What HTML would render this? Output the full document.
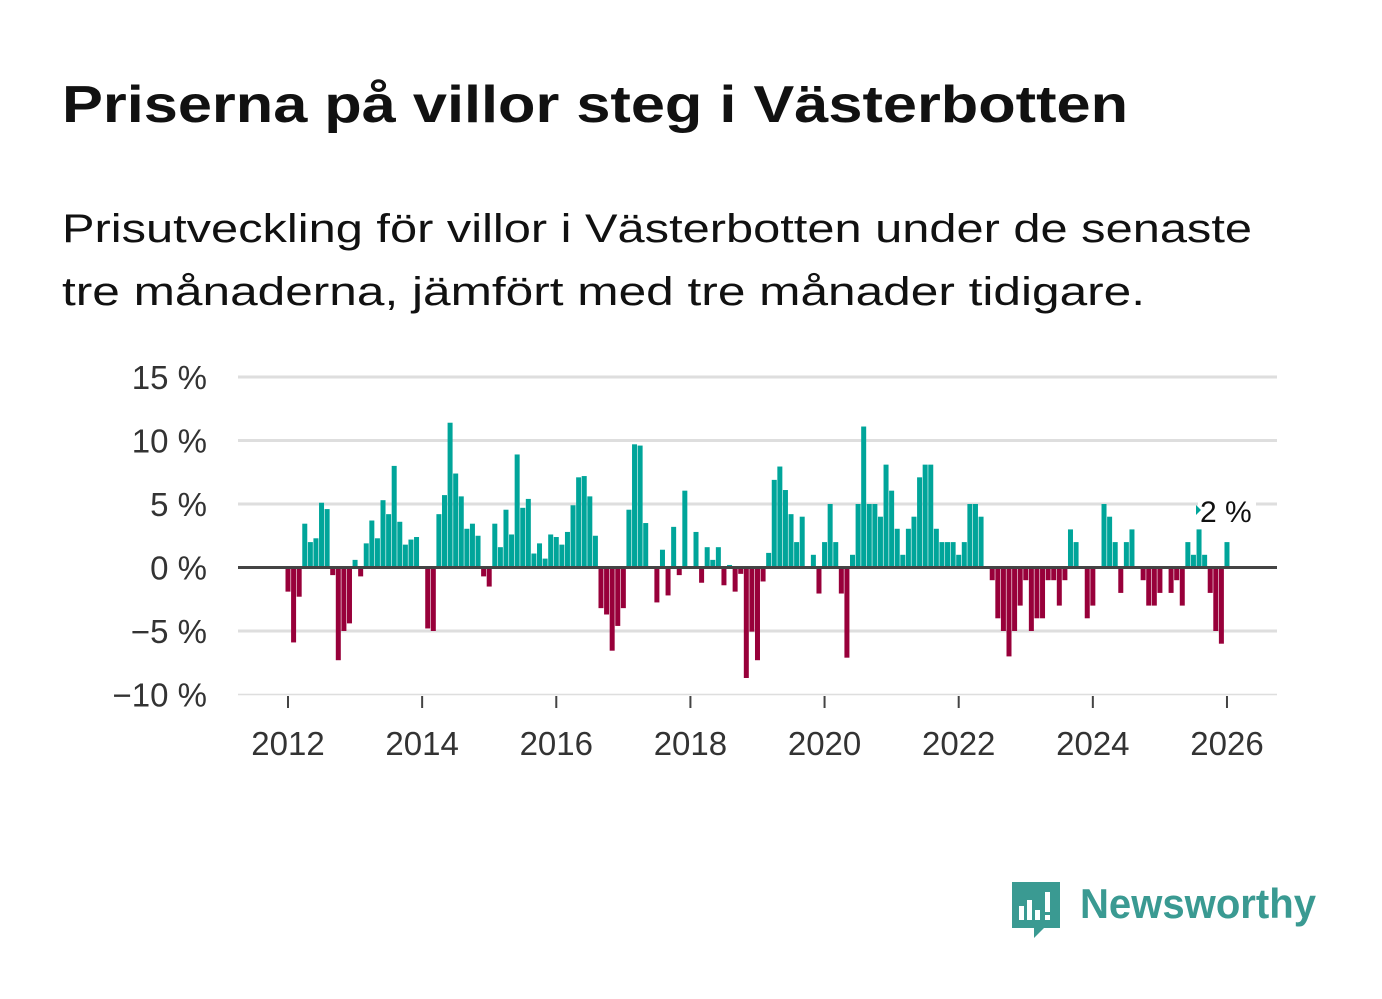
<!DOCTYPE html>
<html><head><meta charset="utf-8"><style>
body{margin:0;background:#fff;}
svg{display:block;font-family:"Liberation Sans",sans-serif;}
</style></head><body>
<svg id="chart" width="1382" height="999" viewBox="0 0 1382 999" xmlns="http://www.w3.org/2000/svg">
<rect width="1382" height="999" fill="#fff"/>
<text x="62" y="122" font-size="52" font-weight="bold" fill="#111" textLength="1066" lengthAdjust="spacingAndGlyphs">Priserna på villor steg i Västerbotten</text>
<text x="62" y="242" font-size="40" fill="#111" textLength="1190" lengthAdjust="spacingAndGlyphs">Prisutveckling för villor i Västerbotten under de senaste</text>
<text x="62" y="305" font-size="40" fill="#111" textLength="1083" lengthAdjust="spacingAndGlyphs">tre månaderna, jämfört med tre månader tidigare.</text>
<g id="grid"></g>
<g id="bars"></g>
<g id="axes"></g>
<g>
<rect x="1198" y="492" width="58" height="36" fill="#fff"/>
<path d="M1196 505 L1201 510 L1196 515 Z" fill="#00a59a"/>
<text x="1200" y="522" font-size="30" fill="#111">2 %</text>
</g>
<g>
<path d="M1012 882 H1060 V928 H1044 L1034 938 V928 H1012 Z" fill="#3a9a92"/>
<rect x="1019" y="906" width="5" height="14" fill="#fff"/>
<rect x="1027" y="900" width="5" height="20" fill="#fff"/>
<rect x="1035" y="910" width="5" height="10" fill="#fff"/>
<rect x="1045" y="892" width="5" height="20" fill="#fff"/>
<rect x="1045" y="915" width="5" height="5" fill="#fff"/>
<text x="1080" y="918" font-size="42" font-weight="bold" fill="#3a9a92" textLength="236" lengthAdjust="spacingAndGlyphs">Newsworthy</text>
</g>
</svg>
<script>
const values = [-1.9,-5.9,-2.3,3.45,2.0,2.3,5.1,4.6,-0.6,-7.3,-5.0,-4.4,
0.6,-0.7,1.9,3.7,2.3,5.3,4.2,8.0,3.6,1.8,2.2,2.4,
0,-4.8,-5.0,4.2,5.7,11.4,7.4,5.6,3.05,3.45,2.5,-0.7,
-1.5,3.45,1.6,4.55,2.6,8.9,4.7,5.4,1.1,1.9,0.7,2.6,
2.4,1.8,2.8,4.9,7.1,7.2,5.6,2.5,-3.2,-3.7,-6.55,-4.6,
-3.2,4.55,9.7,9.6,3.5,0,-2.75,1.4,-2.2,3.2,-0.6,6.05,
0,2.8,-1.2,1.6,0.6,1.6,-1.4,0.2,-1.9,-0.5,-8.7,-5.05,
-7.3,-1.1,1.15,6.9,7.95,6.1,4.2,2.0,4.0,0,1.0,-2.05,
2.0,5.0,2.0,-2.05,-7.1,1.0,5.0,11.1,5.0,5.0,4.0,8.1,
6.05,3.05,1.0,3.05,4.0,7.1,8.1,8.1,3.05,2.0,2.0,2.0,
1.0,2.0,5.0,5.0,4.0,0,-1.0,-4.0,-5.0,-7.0,-5.0,-3.0,
-1.0,-5.0,-4.0,-4.0,-1.0,-1.0,-3.0,-1.0,3.0,2.0,0,-4.0,
-3.0,0,5.0,4.0,2.0,-2.0,2.0,3.0,0,-1.0,-3.0,-3.0,
-2.0,0,-2.0,-1.0,-3.0,2.0,1.0,3.0,1.0,-2.0,-5.0,-6.0,
2.0];
const startYear = 2012;
const yTicks = [-10,-5,0,5,10,15];
const yTickLabels = ["\u221210 %","\u22125 %","0 %","5 %","10 %","15 %"];
const xTicks = [2012,2014,2016,2018,2020,2022,2024,2026];

const NS="http://www.w3.org/2000/svg";
const x0=238,x1=1277;
function yScale(v){return 567.5 - v*12.7;}
function xScale(t){return 288 + (t-2012)*67.07;}
function mk(tag,attrs,parent){const e=document.createElementNS(NS,tag);for(const k in attrs)e.setAttribute(k,attrs[k]);parent.appendChild(e);return e;}
const grid=document.getElementById('grid'),bars=document.getElementById('bars'),axes=document.getElementById('axes');
yTicks.forEach((v,i)=>{
  if(v!==0){const l=mk('line',{x1:x0,x2:x1,y1:yScale(v),y2:yScale(v),stroke:'#dedede','stroke-width':v===-10?1.5:3},grid);
  
  }
  const t=mk('text',{x:207,y:yScale(v)+12,'text-anchor':'end','font-size':33,fill:'#333'},axes);
  t.textContent=yTickLabels[i];
  
  
});
values.forEach((v,i)=>{
  if(v===0)return;
  const cx=xScale(startYear+i/12);
  const y=yScale(Math.max(v,0)),h=Math.abs(yScale(v)-yScale(0));
  const r=mk('rect',{x:cx-2.5,y:y,width:5,height:h,fill:v>0?'#00a59a':'#98003a'},bars);
  
  
});
const z=mk('line',{x1:x0,x2:x1,y1:yScale(0),y2:yScale(0),stroke:'#444','stroke-width':3},axes);


xTicks.forEach(yr=>{
  const x=xScale(yr);
  const tk=mk('line',{x1:x,x2:x,y1:696,y2:708,stroke:'#444','stroke-width':2},axes);
  
  
  const t=mk('text',{x:x,y:755,'text-anchor':'middle','font-size':33,fill:'#333'},axes);
  t.textContent=yr;
  
  
});
</script>
</body></html>
